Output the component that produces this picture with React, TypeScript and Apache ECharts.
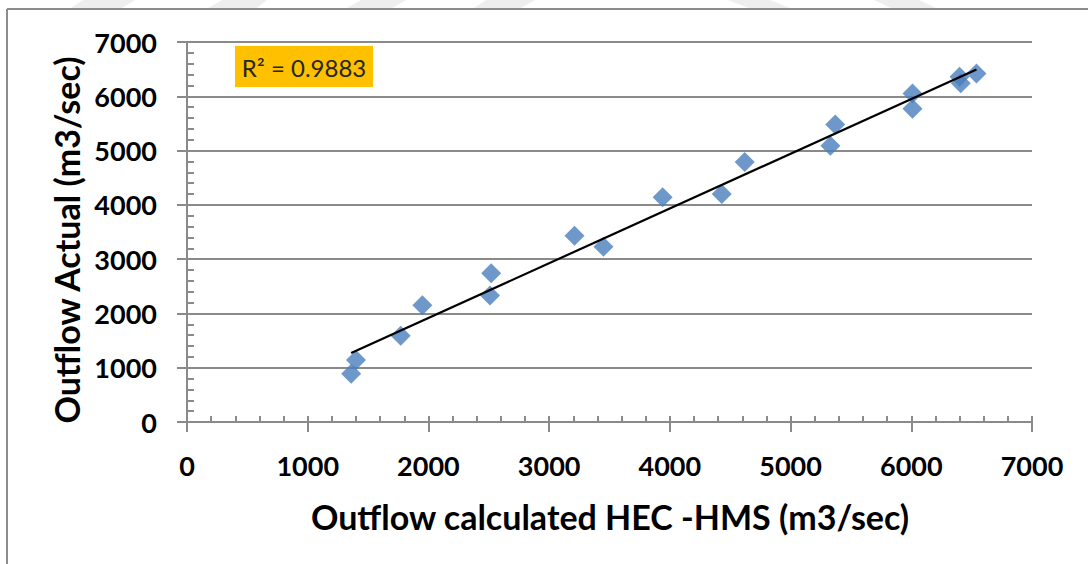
import React, { useEffect, useRef } from "react";
import * as echarts from "echarts";

// Outflow pairs: HEC-HMS calculated vs. actual (m3/sec)
const outflowCalculated = [1360, 1400, 1770, 1950, 2510, 2520, 3210, 3450, 3940, 4430, 4620, 5330, 5370, 6010, 6010, 6400, 6410, 6540];
const outflowActual = [890, 1140, 1590, 2150, 2330, 2740, 3430, 3230, 4140, 4200, 4790, 5090, 5480, 6050, 5770, 6360, 6240, 6420];
const rSquaredLabel = "R\u00b2 = 0.9883";
const xTitle = "Outflow calculated HEC -HMS (m3/sec)";
const yTitle = "Outflow Actual (m3/sec)";

const AXIS_GREY = "#8a8a8a";
const FONT = "Lato, 'Open Sans', sans-serif";

// least-squares fit for the trend line
function linearFit(xs: number[], ys: number[]) {
  const n = xs.length;
  const mx = xs.reduce((a, b) => a + b, 0) / n;
  const my = ys.reduce((a, b) => a + b, 0) / n;
  let sxy = 0;
  let sxx = 0;
  for (let i = 0; i < n; i++) {
    sxy += (xs[i] - mx) * (ys[i] - my);
    sxx += (xs[i] - mx) * (xs[i] - mx);
  }
  const slope = sxy / sxx;
  return { slope, intercept: my - slope * mx };
}

const plainNumber = (v: number) => String(v);

export default function App() {
  const ref = useRef<HTMLDivElement>(null);

  useEffect(() => {
    if (!ref.current) return;
    const chart = echarts.init(ref.current, undefined, { renderer: "svg" });
    const points = outflowCalculated.map((x, i) => [x, outflowActual[i]]);
    const { slope, intercept } = linearFit(outflowCalculated, outflowActual);
    const x0 = Math.min(...outflowCalculated);
    const x1 = Math.max(...outflowCalculated);
    const trend = [
      [x0, intercept + slope * x0],
      [x1, intercept + slope * x1],
    ];

    // faint diagonal bands along the top edge
    const bands = [
      [[71, 8], [122, 8], [135, 0], [83, 0]],
      [[208, 8], [257, 8], [267, 0], [222, 0]],
      [[347, 8], [392, 8], [406, 0], [361, 0]],
      [[474, 8], [521, 8], [535, 0], [486, 0]],
      [[749, 8], [790, 8], [770, 0], [728, 0]],
      [[891, 8], [936, 8], [919, 0], [874, 0]],
    ];

    const labelStyle = {
      color: "#000",
      fontFamily: FONT,
      fontWeight: "bold",
      fontSize: 27,
      margin: 30,
      formatter: plainNumber,
    };

    chart.setOption({
      animation: false,
      backgroundColor: "#ffffff",
      grid: { left: 187, right: 56, top: 42, bottom: 142, containLabel: false },
      xAxis: [
        {
          type: "value",
          min: 0,
          max: 7000,
          interval: 1000,
          axisLine: { show: true, onZero: false, lineStyle: { color: AXIS_GREY, width: 2 } },
          axisTick: { show: true, inside: false, length: 10, lineStyle: { color: AXIS_GREY, width: 2 } },
          axisLabel: labelStyle,
          splitLine: { show: false },
        },
        {
          type: "value",
          position: "bottom",
          min: 0,
          max: 7000,
          interval: 200,
          axisLine: { show: false },
          axisTick: { show: true, inside: true, length: 6, lineStyle: { color: AXIS_GREY, width: 2 } },
          axisLabel: { show: false },
          splitLine: { show: false },
        },
      ],
      yAxis: [
        {
          type: "value",
          min: 0,
          max: 7000,
          interval: 1000,
          axisLine: { show: true, onZero: false, lineStyle: { color: AXIS_GREY, width: 2 } },
          axisTick: { show: true, inside: false, length: 10, lineStyle: { color: AXIS_GREY, width: 2 } },
          axisLabel: labelStyle,
          splitLine: { show: true, lineStyle: { color: AXIS_GREY, width: 2 } },
        },
        {
          type: "value",
          position: "left",
          min: 0,
          max: 7000,
          interval: 200,
          axisLine: { show: false },
          axisTick: { show: true, inside: true, length: 7, lineStyle: { color: AXIS_GREY, width: 2 } },
          axisLabel: { show: false },
          splitLine: { show: false },
        },
      ],
      series: [
        {
          type: "line",
          data: trend,
          xAxisIndex: 0,
          yAxisIndex: 0,
          symbol: "none",
          lineStyle: { color: "#000", width: 2.2 },
          z: 3,
        },
        {
          type: "scatter",
          data: points,
          xAxisIndex: 0,
          yAxisIndex: 0,
          symbol: "diamond",
          symbolSize: 20,
          itemStyle: { color: "#4a7ebb" },
          z: 2,
        },
      ],
      graphic: [
        ...bands.map((pts) => ({
          type: "polygon",
          shape: { points: pts },
          style: { fill: "#eeeeee" },
          silent: true,
        })),
        {
          type: "line",
          shape: { x1: 7, y1: 9, x2: 1088, y2: 9 },
          style: { stroke: "#8c8c8c", lineWidth: 2 },
        },
        {
          type: "line",
          shape: { x1: 7, y1: 9, x2: 7, y2: 564 },
          style: { stroke: "#8c8c8c", lineWidth: 2 },
        },
        {
          type: "rect",
          shape: { x: 235, y: 46, width: 138, height: 41 },
          style: { fill: "#ffc000" },
        },
        {
          type: "text",
          x: 304,
          y: 67,
          style: {
            text: rSquaredLabel,
            fill: "#262626",
            font: `24px ${FONT}`,
            textAlign: "center",
            textVerticalAlign: "middle",
          },
        },
        {
          type: "text",
          x: 610,
          y: 516,
          style: {
            text: xTitle,
            fill: "#000",
            font: `bold 34px ${FONT}`,
            textAlign: "center",
            textVerticalAlign: "middle",
          },
        },
        {
          type: "text",
          x: 66,
          y: 240,
          rotation: Math.PI / 2,
          style: {
            text: yTitle,
            fill: "#000",
            font: `bold 34px ${FONT}`,
            textAlign: "center",
            textVerticalAlign: "middle",
          },
        },
      ],
    });

    return () => chart.dispose();
  }, []);

  return (
    <div
      ref={ref}
      style={{ position: "absolute", left: 0, top: 0, width: 1088, height: 564 }}
    />
  );
}
